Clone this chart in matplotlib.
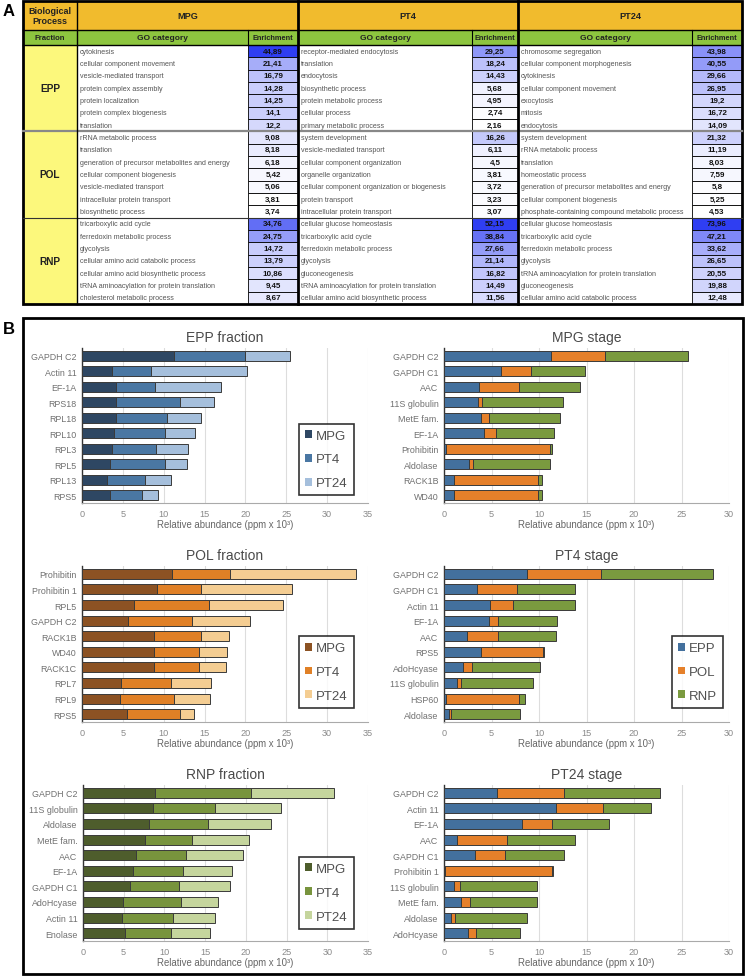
import numpy as np
import matplotlib
matplotlib.use("Agg")
import matplotlib.pyplot as plt
from matplotlib.patches import Rectangle, Patch
from matplotlib.colors import LinearSegmentedColormap

plt.rcParams['font.family'] = ['Liberation Sans', 'DejaVu Sans']

W, H = 745, 978  # figure size in pixels

# ---------------- panel A : GO enrichment table ----------------
FRACTIONS = ["EPP", "POL", "RNP"]
STAGES = ["MPG", "PT4", "PT24"]

mpg_go = ["cytokinesis", "cellular component movement", "vesicle-mediated transport",
          "protein complex assembly", "protein localization", "protein complex biogenesis", "translation",
          "rRNA metabolic process", "translation", "generation of precursor metabolites and energy",
          "cellular component biogenesis", "vesicle-mediated transport", "intracellular protein transport",
          "biosynthetic process",
          "tricarboxylic acid cycle", "ferredoxin metabolic process", "glycolysis",
          "cellular amino acid catabolic process", "cellular amino acid biosynthetic process",
          "tRNA aminoacylation for protein translation", "cholesterol metabolic process"]
mpg_enr = [44.89, 21.41, 16.79, 14.28, 14.25, 14.1, 12.2,
           9.08, 8.18, 6.18, 5.42, 5.06, 3.81, 3.74,
           34.76, 24.75, 14.72, 13.79, 10.86, 9.45, 8.67]

pt4_go = ["receptor-mediated endocytosis", "translation", "endocytosis", "biosynthetic process",
          "protein metabolic process", "cellular process", "primary metabolic process",
          "system development", "vesicle-mediated transport", "cellular component organization",
          "organelle organization", "cellular component organization or biogenesis", "protein transport",
          "intracellular protein transport",
          "cellular glucose homeostasis", "tricarboxylic acid cycle", "ferredoxin metabolic process",
          "glycolysis", "gluconeogenesis", "tRNA aminoacylation for protein translation",
          "cellular amino acid biosynthetic process"]
pt4_enr = [29.25, 18.24, 14.43, 5.68, 4.95, 2.74, 2.16,
           16.26, 6.11, 4.5, 3.81, 3.72, 3.23, 3.07,
           52.15, 38.84, 27.66, 21.14, 16.82, 14.49, 11.56]

pt24_go = ["chromosome segregation", "cellular component morphogenesis", "cytokinesis",
           "cellular component movement", "exocytosis", "mitosis", "endocytosis",
           "system development", "rRNA metabolic process", "translation", "homeostatic process",
           "generation of precursor metabolites and energy", "cellular component biogenesis",
           "phosphate-containing compound metabolic process",
           "cellular glucose homeostasis", "tricarboxylic acid cycle", "ferredoxin metabolic process",
           "glycolysis", "tRNA aminoacylation for protein translation", "gluconeogenesis",
           "cellular amino acid catabolic process"]
pt24_enr = [43.98, 40.55, 29.66, 26.95, 19.2, 16.72, 14.09,
            21.32, 11.19, 8.03, 7.59, 5.8, 5.25, 4.53,
            73.96, 47.21, 33.62, 26.65, 20.55, 19.88, 12.48]

# ---------------- panel B : relative abundance (ppm x 10^3) ----------------
epp_names = ["GAPDH C2", "Actin 11", "EF-1A", "RPS18", "RPL18", "RPL10", "RPL3", "RPL5", "RPL13", "RPS5"]
epp_mpg = [11.3, 3.7, 4.2, 4.1, 4.2, 3.9, 3.7, 3.45, 3.0, 3.45]
epp_pt4 = [8.7, 4.8, 4.7, 7.95, 6.25, 6.3, 5.35, 6.75, 4.65, 3.85]
epp_pt24 = [5.5, 11.7, 8.15, 4.1, 4.1, 3.6, 3.9, 2.7, 3.3, 1.95]

pol_names = ["Prohibitin", "Prohibitin 1", "RPL5", "GAPDH C2", "RACK1B", "WD40", "RACK1C", "RPL7", "RPL9", "RPS5"]
pol_mpg = [11.0, 9.2, 6.4, 5.65, 8.8, 8.8, 8.8, 4.75, 4.6, 5.55]
pol_pt4 = [7.15, 5.35, 9.1, 7.8, 5.75, 5.55, 5.55, 6.2, 6.65, 6.45]
pol_pt24 = [15.4, 11.2, 9.15, 7.1, 3.5, 3.45, 3.3, 4.85, 4.45, 1.7]

rnp_names = ["GAPDH C2", "11S globulin", "Aldolase", "MetE fam.", "AAC", "EF-1A", "GAPDH C1", "AdoHcyase", "Actin 11", "Enolase"]
rnp_mpg = [8.8, 8.6, 8.1, 7.6, 6.5, 6.1, 5.75, 4.9, 4.75, 5.15]
rnp_pt4 = [11.8, 7.6, 7.25, 5.8, 6.1, 6.15, 6.1, 7.15, 6.35, 5.65]
rnp_pt24 = [10.2, 8.1, 7.7, 6.95, 7.1, 6.1, 6.2, 4.55, 5.1, 4.8]

mpg_names = ["GAPDH C2", "GAPDH C1", "AAC", "11S globulin", "MetE fam.", "EF-1A", "Prohibitin", "Aldolase", "RACK1B", "WD40"]
mpg_epp = [11.25, 5.95, 3.7, 3.55, 3.9, 4.25, 0.2, 2.65, 1.05, 1.05]
mpg_pol = [5.7, 3.2, 4.2, 0.4, 0.8, 1.2, 11.0, 0.45, 8.8, 8.8]
mpg_rnp = [8.75, 5.7, 6.4, 8.6, 7.55, 6.1, 0.2, 8.1, 0.5, 0.5]

pt4_names = ["GAPDH C2", "GAPDH C1", "Actin 11", "EF-1A", "AAC", "RPS5", "AdoHcyase", "11S globulin", "HSP60", "Aldolase"]
pt4_epp = [8.75, 3.45, 4.8, 4.7, 2.4, 3.85, 2.05, 1.4, 0.25, 0.55]
pt4_pol = [7.8, 4.2, 2.5, 1.0, 3.25, 6.55, 0.85, 0.4, 7.6, 0.2]
pt4_rnp = [11.8, 6.15, 6.45, 6.2, 6.1, 0.1, 7.2, 7.6, 0.7, 7.25]

pt24_names = ["GAPDH C2", "Actin 11", "EF-1A", "AAC", "GAPDH C1", "Prohibitin 1", "11S globulin", "MetE fam.", "Aldolase", "AdoHcyase"]
pt24_epp = [5.55, 11.75, 8.25, 1.4, 3.3, 0.15, 1.0, 1.8, 0.75, 2.55]
pt24_pol = [7.05, 5.0, 3.1, 5.25, 3.15, 11.2, 0.7, 0.95, 0.4, 0.8]
pt24_rnp = [10.15, 5.0, 6.05, 7.1, 6.2, 0.15, 8.05, 7.0, 7.6, 4.6]

EPP_COLS = ['#2e4763', '#4a77a3', '#a5bfdc']
POL_COLS = ['#8c5223', '#e08026', '#f4cd92']
RNP_COLS = ['#4e5d2c', '#78943d', '#c5d59d']
STAGE_COLS = ['#43709d', '#e5802a', '#7a9a3f']


def px(x0, y0, x1, y1):
    # pixel box (top-left origin) -> figure fraction rect
    return [x0 / W, 1 - y1 / H, (x1 - x0) / W, (y1 - y0) / H]


fig = plt.figure(figsize=(W / 100, H / 100), dpi=100)

# overlay axes in pixel coordinates for the table and frames
ax0 = fig.add_axes([0, 0, 1, 1])
ax0.set_xlim(0, W)
ax0.set_ylim(H, 0)
ax0.axis('off')

enr_cmap = LinearSegmentedColormap.from_list('enr', ['#ffffff', '#2f3ef2'])

T_LEFT, T_RIGHT = 23, 742
FRAC_R = 77
H1_TOP, H1_BOT, H2_BOT = 2, 31, 46
T_BOT = 305
nrow = len(mpg_go)
rh = (T_BOT - H2_BOT) / nrow
blocks = [(77, 248, 298), (298, 472, 518), (518, 692, 742)]
go_lists = [mpg_go, pt4_go, pt24_go]
enr_lists = [mpg_enr, pt4_enr, pt24_enr]

# header rows
ax0.add_patch(Rectangle((T_LEFT, H1_TOP), T_RIGHT - T_LEFT, H1_BOT - H1_TOP, fc='#f1bb2d', ec='none'))
ax0.add_patch(Rectangle((T_LEFT, H1_BOT), T_RIGHT - T_LEFT, H2_BOT - H1_BOT, fc='#8dc53f', ec='none'))
ax0.add_patch(Rectangle((T_LEFT, H2_BOT), FRAC_R - T_LEFT, T_BOT - H2_BOT, fc='#fcf87c', ec='none'))
ax0.text((T_LEFT + FRAC_R) / 2, (H1_TOP + H1_BOT) / 2, "Biological\nProcess", ha='center', va='center',
         fontsize=6.5, fontweight='bold', color='#222', linespacing=1.1)
ax0.text((T_LEFT + FRAC_R) / 2, (H1_BOT + H2_BOT) / 2, "Fraction", ha='center', va='center',
         fontsize=5.6, fontweight='bold', color='#222')

for k, (gx, ex, ex1) in enumerate(blocks):
    ax0.text((gx + ex1) / 2, (H1_TOP + H1_BOT) / 2, STAGES[k], ha='center', va='center',
             fontsize=6.6, fontweight='bold', color='#222')
    ax0.text((gx + ex) / 2, (H1_BOT + H2_BOT) / 2, "GO category", ha='center', va='center',
             fontsize=6, fontweight='bold', color='#222')
    ax0.text((ex + ex1) / 2, (H1_BOT + H2_BOT) / 2, "Enrichment", ha='center', va='center',
             fontsize=5.3, fontweight='bold', color='#222')
    ax0.plot([ex, ex], [H1_BOT, H2_BOT], color='k', lw=0.8)
    vals = np.array(enr_lists[k])
    norm = (vals - vals.min()) / (vals.max() - vals.min())
    for i in range(nrow):
        y = H2_BOT + i * rh
        ax0.add_patch(Rectangle((ex, y), ex1 - ex, rh, fc=enr_cmap(norm[i]), ec='k', lw=0.6))
        ax0.text(gx + 3, y + rh / 2, go_lists[k][i], ha='left', va='center', fontsize=5.1, color='#555')
        ax0.text((ex + ex1) / 2, y + rh / 2, str(vals[i]).replace('.', ','), ha='center', va='center',
                 fontsize=5.8, fontweight='bold', color='#111')

for g, name in enumerate(FRACTIONS):
    yc = H2_BOT + (g * 7 + 3.5) * rh
    ax0.text((T_LEFT + FRAC_R) / 2, yc, name, ha='center', va='center', fontsize=7.3, fontweight='bold', color='#222')

# grid lines of the table
ax0.plot([T_LEFT, T_RIGHT], [H2_BOT + 7 * rh] * 2, color='#888', lw=1.6)
ax0.plot([T_LEFT, T_RIGHT], [H2_BOT + 14 * rh] * 2, color='#333', lw=0.8)
ax0.plot([T_LEFT, T_RIGHT], [H1_BOT, H1_BOT], color='k', lw=1)
ax0.plot([T_LEFT, T_RIGHT], [H2_BOT, H2_BOT], color='k', lw=1)
ax0.plot([FRAC_R, FRAC_R], [H1_TOP, T_BOT], color='k', lw=1)
for xv in [298, 518]:
    ax0.plot([xv, xv], [H1_TOP, T_BOT], color='k', lw=2)
ax0.add_patch(Rectangle((T_LEFT, H1_TOP), T_RIGHT - T_LEFT, T_BOT - H1_TOP, fc='none', ec='k', lw=2))

# panel letters and frame of B
ax0.text(3, 11, "A", ha='left', va='center', fontsize=12, fontweight='bold')
ax0.text(3, 329, "B", ha='left', va='center', fontsize=12, fontweight='bold')
ax0.add_patch(Rectangle((23, 319), 743 - 23, 975 - 319, fc='none', ec='k', lw=2))


def stacked(rect, title, names, series, labels, colors, xmax, legend=None):
    ax = fig.add_axes(rect)
    ax.set_facecolor('none')
    y = np.arange(len(names))
    left = np.zeros(len(names))
    for vals, c in zip(series, colors):
        vals = np.array(vals)
        ax.barh(y, vals, left=left, height=0.64, color=c, edgecolor='#3a3a3a', linewidth=0.7, zorder=3)
        left += vals
    ax.set_ylim(len(names) - 0.5, -0.5)
    ax.set_xlim(0, xmax)
    ax.set_xticks(np.arange(0, xmax + 1, 5))
    ax.set_yticks(y)
    ax.set_yticklabels(names)
    ax.set_axisbelow(True)
    ax.xaxis.grid(True, color='#dddddd', lw=0.8)
    for s in ['top', 'right']:
        ax.spines[s].set_visible(False)
    ax.spines['left'].set_color('#333333')
    ax.spines['left'].set_linewidth(1)
    ax.spines['bottom'].set_color('#aaaaaa')
    ax.spines['bottom'].set_linewidth(0.8)
    ax.tick_params(axis='both', length=0)
    ax.tick_params(axis='y', labelsize=6.4, labelcolor='#707070', pad=4)
    ax.tick_params(axis='x', labelsize=6.6, labelcolor='#8a8a8a', pad=4)
    ax.set_xlabel("Relative abundance (ppm x 10\u00b3)", fontsize=6.9, color='#666666', labelpad=1)
    ax.set_title(title, fontsize=10, color='#4a4a4a', pad=5)
    if legend is not None:
        handles = [Patch(facecolor=c, edgecolor='none') for c in colors]
        lg = ax.legend(handles, labels, loc='lower right', bbox_to_anchor=legend, fontsize=9.5,
                       frameon=True, fancybox=False, edgecolor='k', handlelength=0.55, handleheight=0.55,
                       handletextpad=0.3, labelspacing=0.9, borderpad=0.45, borderaxespad=0)
        lg.get_frame().set_linewidth(1.2)
        for t in lg.get_texts():
            t.set_color('#505050')
    return ax


LX0, LX1 = 82, 368
RX0, RX1 = 444, 729
rows = [(349, 504), (567, 723), (786, 942)]

stacked(px(LX0, rows[0][0], LX1, rows[0][1]), "EPP fraction", epp_names,
        [epp_mpg, epp_pt4, epp_pt24], STAGES, EPP_COLS, 35, legend=(0.95, 0.05))
stacked(px(LX0, rows[1][0], LX1, rows[1][1]), "POL fraction", pol_names,
        [pol_mpg, pol_pt4, pol_pt24], STAGES, POL_COLS, 35, legend=(0.95, 0.09))
stacked(px(LX0 + 1, rows[2][0], LX1, rows[2][1]), "RNP fraction", rnp_names,
        [rnp_mpg, rnp_pt4, rnp_pt24], STAGES, RNP_COLS, 35, legend=(0.95, 0.08))

stacked(px(RX0, rows[0][0], RX1, rows[0][1]), "MPG stage", mpg_names,
        [mpg_epp, mpg_pol, mpg_rnp], FRACTIONS, STAGE_COLS, 30)
stacked(px(RX0, rows[1][0], RX1, rows[1][1]), "PT4 stage", pt4_names,
        [pt4_epp, pt4_pol, pt4_rnp], FRACTIONS, STAGE_COLS, 30, legend=(0.98, 0.09))
stacked(px(RX0, rows[2][0], RX1, rows[2][1]), "PT24 stage", pt24_names,
        [pt24_epp, pt24_pol, pt24_rnp], FRACTIONS, STAGE_COLS, 30)

fig.savefig("out.png", dpi=100)
